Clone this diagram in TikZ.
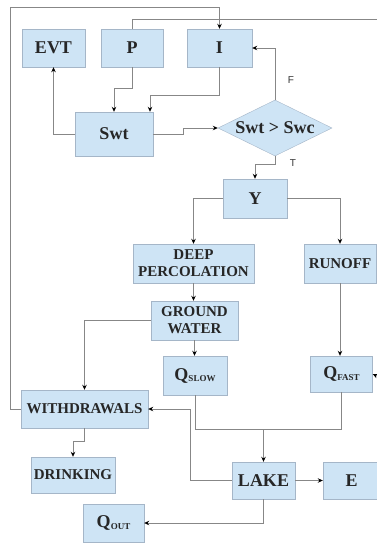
\documentclass[tikz,border=0pt]{standalone}
\usepackage{fontspec}
\setmainfont{Liberation Serif}[Ligatures=TeX]
\newfontfamily\boxfont{Liberation Serif}
\newfontfamily\lblfont{Liberation Sans}
\usetikzlibrary{shapes.geometric,arrows.meta}
\definecolor{boxblue}{RGB}{206,228,245}
\definecolor{boxedge}{RGB}{165,182,200}
\definecolor{linegray}{RGB}{135,135,135}
\newcommand{\qsub}[1]{{\fontsize{18}{18}\selectfont Q}\raisebox{-1.5pt}{\fontsize{9}{9}\selectfont #1}}

\begin{document}
\begin{tikzpicture}[x=1pt,y=-1pt,
  blk/.style={draw=boxedge,fill=boxblue,inner sep=0pt,align=center,text=black!85,font=\boxfont\bfseries\fontsize{15}{17}\selectfont,minimum height=39pt},
  bigblk/.style={blk,font=\boxfont\bfseries\fontsize{18}{20}\selectfont},
  flow/.style={draw=linegray,line width=0.9pt},
  arr/.style={flow,-{Stealth[black,length=5pt,width=4.5pt]}},
  lbl/.style={font=\lblfont\fontsize{10}{10}\selectfont,text=black!80}]
\clip (0,0) rectangle (377,544);
\fill[white] (0,0) rectangle (377,544);
\node[bigblk,minimum width=63pt,minimum height=38pt] (evt) at (53.5,48) {EVT};
\node[bigblk,minimum width=62pt,minimum height=38pt] (p) at (132,48) {P};
\node[bigblk,minimum width=65pt,minimum height=38pt] (i) at (219.5,48) {I};
\node[bigblk,minimum width=78pt,minimum height=44pt] (swt) at (114,134) {Swt};
\node[diamond,aspect=2,draw=boxedge,fill=boxblue,inner sep=0pt,minimum width=114pt,minimum height=56pt,text=black!85,font=\boxfont\bfseries\fontsize{18}{20}\selectfont] (dec) at (275,128) {Swt > Swc};
\node[bigblk,minimum width=64pt] (y) at (255,198.5) {Y};
\node[blk,minimum width=121pt] (deep) at (193.5,263.5) {DEEP\\PERCOLATION};
\node[blk,minimum width=72pt] (run) at (340,263.5) {RUNOFF};
\node[blk,minimum width=87pt] (gw) at (194.5,320.5) {GROUND\\WATER};
\node[blk,minimum width=64pt] (qs) at (195,375.5) {\qsub{SLOW}};
\node[blk,minimum width=62pt,minimum height=36pt] (qf) at (341.5,374) {\qsub{FAST}};
\node[blk,minimum width=127pt,minimum height=38pt] (wd) at (84.5,409) {WITHDRAWALS};
\node[blk,minimum width=84pt,minimum height=36pt] (dr) at (73,475) {DRINKING};
\node[bigblk,minimum width=63pt,minimum height=37pt] (lake) at (263.5,480.5) {LAKE};
\node[bigblk,minimum width=57pt,minimum height=37pt] (e) at (351.5,480.5) {E};
\node[blk,minimum width=61pt,minimum height=38pt] (qo) at (113.5,523) {\qsub{OUT}};
\node[lbl] (f) at (291,80) {F};
\node[lbl] (t) at (293,163) {T};
\coordinate (toprt) at (377,19);
\coordinate (rtin) at (377,376);
\coordinate (join) at (263.5,429);
\draw[arr] (wd.west) -| (10,7) -| (i.north);
\draw[flow] (p.north) |- (toprt);
\draw[arr] (rtin) -- (qf.east);
\draw[arr] (p.south) -- ++(0,21) -| (swt.north);
\draw[arr] (i.south) -- ++(0,28) -| ([xshift=36pt]swt.north);
\draw[arr] (swt.west) -| (evt.south);
\draw[arr] (swt.east) -- ++(30,0) |- (dec.west);
\draw[arr] (dec.north) |- (i.east);
\draw[arr] (dec.south) -- ++(0,8) -| (y.north);
\draw[arr] (y.west) -| (deep.north);
\draw[arr] (y.east) -| (run.north);
\draw[arr] (deep.south) -- (deep.south |- gw.north);
\draw[arr] (gw.south) -- (gw.south |- qs.north);
\draw[arr] (gw.west) -| (wd.north);
\draw[arr] (run.south) -- (run.south |- qf.north);
\draw[flow] (qs.south) |- (qf.south |- join) -- (qf.south);
\draw[arr] (join) -- (lake.north);
\draw[arr] (lake.west) -- ++(-41,0) |- (wd.east);
\draw[arr] (wd.south) -- ++(0,13) -| (dr.north);
\draw[arr] (lake.east) -- (e.west);
\draw[arr] (lake.south) |- (qo.east);
\end{tikzpicture}
\end{document}
